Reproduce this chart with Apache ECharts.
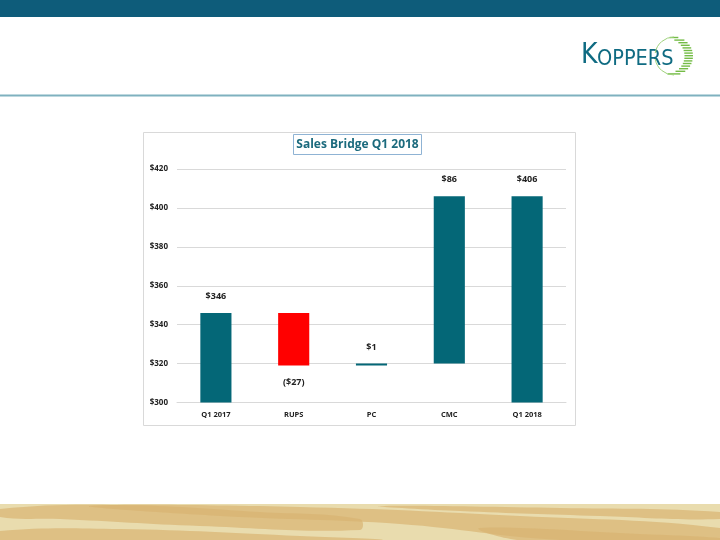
<!DOCTYPE html>
<html>
<head>
<meta charset="utf-8">
<script src="https://cdn.jsdelivr.net/npm/echarts@6/dist/echarts.min.js"></script>
<style>
html,body{margin:0;padding:0;background:#fff;}
#c{width:720px;height:540px;}
</style>
</head>
<body>
<div id="c"></div>
<script>
// ---- data ----
const categories = ['Q1 2017', 'RUPS', 'PC', 'CMC', 'Q1 2018'];
const startValue = 346;       // Q1 2017 sales
const changes = [-27, 1, 86]; // RUPS, PC, CMC
const endValue = 406;         // Q1 2018 sales
const valueLabels = ['$346', '($27)', '$1', '$86', '$406'];
const yTicks = [300, 320, 340, 360, 380, 400, 420];

// ---- waterfall build ----
const teal = '#046777', red = '#ff0000';
const base = [0], vis = [{value: startValue, itemStyle: {color: teal}}];
let run = startValue;
changes.forEach(function (d) {
  const lo = d < 0 ? run + d : run;
  base.push(lo);
  vis.push({value: Math.abs(d), itemStyle: {color: d < 0 ? red : teal}});
  run += d;
});
base.push(0);
vis.push({value: endValue, itemStyle: {color: teal}});
vis.forEach(function (v, i) {
  v.label = {show: true, formatter: valueLabels[i], position: (i > 0 && i <= changes.length && changes[i - 1] < 0) ? 'bottom' : 'top'};
});

// ---- decorations ----
const graphics = [];
graphics.push({type: 'rect', shape: {x: 0, y: 0, width: 720, height: 17}, style: {fill: '#0e5c7a'}, silent: true});
graphics.push({type: 'line', shape: {x1: 0, y1: 95.5, x2: 720, y2: 95.5}, style: {stroke: '#7fb1bf', lineWidth: 2}, silent: true});
// logo text
graphics.push({type: 'text', left: 581, top: 42, style: {text: 'K', font: '28px "Liberation Sans Narrow", "DejaVu Sans Condensed", sans-serif', fill: '#0f6b82'}, silent: true});
graphics.push({type: 'text', left: 597, top: 48, style: {text: 'OPPERS', font: '21.5px "Liberation Sans Narrow", "DejaVu Sans Condensed", sans-serif', fill: '#0f6b82'}, silent: true});
// logo crescent stripes
(function () {
  const cx = 674, cy = 56, r = 19, icx = 667, ir = 17.5;
  for (let y = 37.5; y <= 75; y += 2.6) {
    const dy = y - cy;
    if (Math.abs(dy) >= r) continue;
    const hw = Math.sqrt(r * r - dy * dy);
    let x1 = cx - hw;
    const x2 = cx + hw;
    if (Math.abs(dy) < ir) x1 = Math.max(x1, icx + Math.sqrt(ir * ir - dy * dy));
    if (x2 - x1 < 0.8) continue;
    graphics.push({type: 'line', shape: {x1: x1, y1: y, x2: x2, y2: y}, style: {stroke: '#74bc46', lineWidth: 1.4}, silent: true});
  }
  graphics.push({type: 'arc', shape: {cx: cx, cy: cy, r: r, startAngle: Math.PI * 1.05, endAngle: Math.PI * 1.5}, style: {stroke: '#9fd27c', lineWidth: 1, fill: null}, silent: true});
  graphics.push({type: 'arc', shape: {cx: cx, cy: cy, r: r, startAngle: Math.PI * 0.5, endAngle: Math.PI * 0.95}, style: {stroke: '#9fd27c', lineWidth: 1, fill: null}, silent: true});
})();
// wood strip
graphics.push({type: 'rect', shape: {x: 0, y: 504, width: 720, height: 36}, style: {fill: '#e9dcae'}, silent: true});
const streaks = [
  [[0, 509], [120, 505], [260, 512], [360, 519], [360, 530], [200, 526], [60, 519], [0, 517]],
  [[90, 506], [300, 507], [520, 516], [720, 528], [720, 540], [560, 540], [400, 524], [220, 516]],
  [[380, 506], [560, 508], [720, 512], [720, 519], [600, 516], [460, 511]],
  [[0, 531], [120, 529], [300, 536], [380, 540], [0, 540]],
  [[480, 528], [640, 534], [720, 538], [720, 540], [520, 540]]
];
streaks.forEach(function (p, i) {
  graphics.push({type: 'polygon', shape: {points: p, smooth: 0.4}, style: {fill: '#d9b372', opacity: 0.7}, silent: true});
});
// chart frame
graphics.push({type: 'rect', shape: {x: 143.5, y: 132.5, width: 432, height: 293}, style: {fill: null, stroke: '#d9d9d9', lineWidth: 1}, silent: true});
// title box
graphics.push({type: 'rect', shape: {x: 293.5, y: 134.5, width: 128, height: 20}, style: {fill: '#fff', stroke: '#8fb3d4', lineWidth: 1}, silent: true});
graphics.push({type: 'text', x: 357.5, y: 145, style: {text: 'Sales Bridge Q1 2018', font: 'bold 12px "Open Sans", "Liberation Sans", sans-serif', fill: '#1b6a7d', textAlign: 'center', textVerticalAlign: 'middle'}, silent: true});

const chart = echarts.init(document.getElementById('c'), null, {renderer: 'canvas'});
chart.setOption({
  animation: false,
  backgroundColor: '#ffffff',
  graphic: graphics,
  grid: {left: 177, right: 154, top: 169, bottom: 137.5, containLabel: false},
  xAxis: {
    type: 'category', data: categories,
    axisLine: {show: true, lineStyle: {color: '#d9d9d9', width: 1}},
    axisTick: {show: false},
    axisLabel: {color: '#222', fontSize: 7.5, fontWeight: 'bold', fontFamily: '"Open Sans", "Liberation Sans", sans-serif', margin: 8}
  },
  yAxis: {
    type: 'value', min: yTicks[0], max: yTicks[yTicks.length - 1], interval: yTicks[1] - yTicks[0],
    axisLine: {show: false}, axisTick: {show: false},
    splitLine: {lineStyle: {color: '#d9d9d9', width: 1}},
    axisLabel: {color: '#222', fontSize: 8, fontWeight: 'bold', fontFamily: '"Open Sans", "Liberation Sans", sans-serif', margin: 9, formatter: function (v) { return '$' + v; }}
  },
  series: [
    {type: 'bar', stack: 'w', data: base, itemStyle: {color: 'transparent'}, barWidth: '40%', silent: true},
    {type: 'bar', stack: 'w', data: vis, barWidth: '40%',
     label: {show: true, color: '#222', fontSize: 9, fontWeight: 'bold', fontFamily: '"Open Sans", "Liberation Sans", sans-serif', distance: 12}}
  ]
});
</script>
</body>
</html>
